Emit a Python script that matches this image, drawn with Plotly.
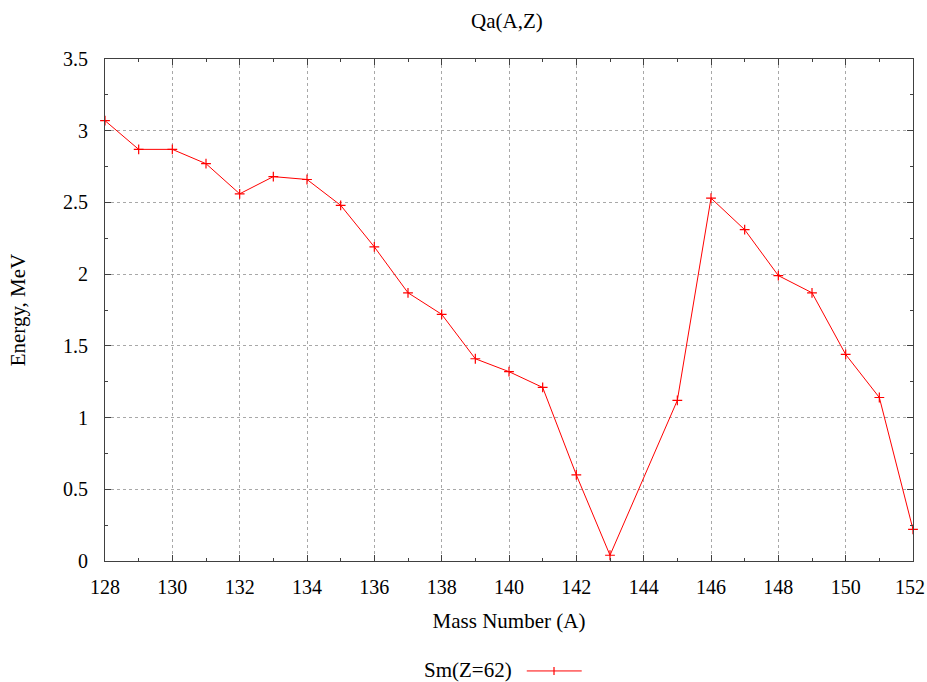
import plotly.graph_objects as go

mass_number = [128, 129, 130, 131, 132, 133, 134, 135, 136, 137, 138, 139, 140, 141, 142, 143,
               145, 146, 147, 148, 149, 150, 151, 152]
energy = [3.07, 2.87, 2.87, 2.77, 2.56, 2.68, 2.66, 2.48, 2.19, 1.87, 1.72, 1.41, 1.32, 1.21, 0.60, 0.04,
          1.12, 2.53, 2.31, 1.99, 1.87, 1.44, 1.14, 0.22]
series_name = "Sm(Z=62)"
x_ticks = list(range(128, 153, 2))
x_tick_text = [str(v) for v in x_ticks]
y_ticks = [0, 0.5, 1, 1.5, 2, 2.5, 3, 3.5]
y_tick_text = ["0", "0.5", "1", "1.5", "2", "2.5", "3", "3.5"]

FONT = "Liberation Serif, Times New Roman, serif"
BLACK = "#000000"

# the last x label sits at the page edge; as in the reference it is nudged inward
axis_tick_text = x_tick_text[:-1] + [""]

fig = go.Figure()
fig.add_trace(go.Scatter(
    x=mass_number, y=energy, mode="lines+markers", name=series_name,
    line=dict(color="#ff0000", width=1),
    marker=dict(symbol="cross-thin", size=7, line=dict(color="#ff0000", width=1.2)),
    showlegend=False, cliponaxis=False,
))

axis_common = dict(
    showline=True, linecolor="#404040", linewidth=1, mirror="ticks",
    ticks="inside", tickcolor="#404040", ticklen=6,
    showgrid=True, gridcolor="#a8a8a8", griddash="dot", gridwidth=1,
    zeroline=False, tickfont=dict(family=FONT, size=20, color=BLACK),
)

fig.update_xaxes(
    range=[128, 152], tickvals=x_ticks, ticktext=axis_tick_text,
    minor=dict(ticks="inside", ticklen=3, dtick=1, tickcolor="#404040", showgrid=False),
    title=dict(text="Mass Number (A)", font=dict(family=FONT, size=21, color=BLACK), standoff=16),
    ticklabelstandoff=8,
    **axis_common,
)
fig.update_yaxes(
    range=[0, 3.5], tickvals=y_ticks, ticktext=y_tick_text,
    minor=dict(ticks="inside", ticklen=3, dtick=0.25, tickcolor="#404040", showgrid=False),
    title=dict(text="Energy, MeV", font=dict(family=FONT, size=21, color=BLACK), standoff=31),
    ticklabelstandoff=12,
    **axis_common,
)

fig.add_annotation(xref="x", yref="y", x=x_ticks[-1], y=y_ticks[0], text=x_tick_text[-1],
                   showarrow=False, xanchor="center", yanchor="middle", xshift=-3, yshift=-26,
                   font=dict(family=FONT, size=20, color=BLACK))

# legend (gnuplot-style: text then sample)
fig.add_annotation(xref="paper", yref="paper", x=0.506, y=-0.217,
                   text=series_name, showarrow=False, xanchor="right", yanchor="middle",
                   font=dict(family=FONT, size=21, color=BLACK))
fig.add_shape(type="line", xref="paper", yref="paper", x0=0.522, x1=0.590, y0=-0.219, y1=-0.219,
              line=dict(color="#ff0000", width=1))
fig.add_shape(type="line", xref="paper", yref="paper", x0=0.5557, x1=0.5557, y0=-0.227, y1=-0.211,
              line=dict(color="#ff0000", width=1.2))

fig.update_layout(
    width=927, height=682,
    margin=dict(l=105, r=14, t=59, b=121, autoexpand=False),
    paper_bgcolor="white", plot_bgcolor="white",
    title=dict(text="Qa(A,Z)", xref="paper", x=0.4975, xanchor="center",
               yref="container", y=0.969, yanchor="middle",
               font=dict(family=FONT, size=21, color=BLACK)),
)

fig.write_html("out.html", config={"displayModeBar": False},
               post_script="document.body.style.margin='0px';")
